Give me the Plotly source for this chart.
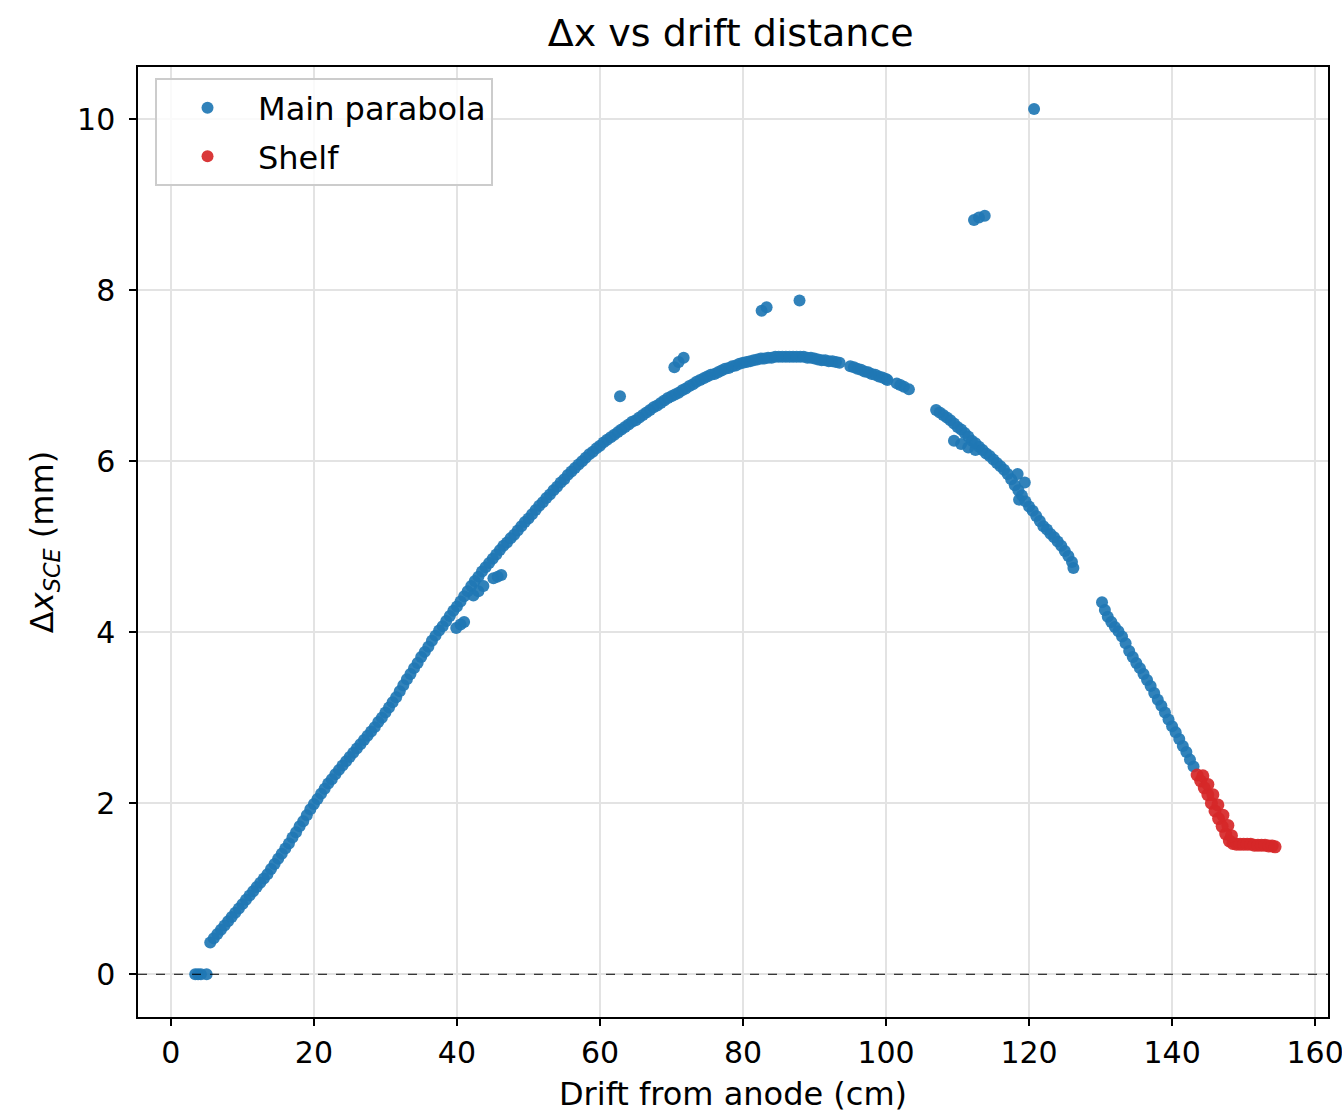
import plotly.graph_objects as go

# ---- data ----
curve_x = [5.5, 6, 7, 8, 9, 10, 11, 12, 13, 14, 15, 16, 17, 18, 19, 20, 21, 22, 23, 24,
           25, 26, 27, 28, 29, 30, 31, 32, 33, 34, 35, 36, 37, 38, 39, 40, 41, 42, 43, 44,
           45, 46, 47, 48, 49, 50, 51, 52, 53, 54, 55, 56, 57, 58, 59, 60, 61, 62, 63, 64,
           65, 66, 67, 68, 69, 70, 71, 72, 73, 74, 75, 76, 77, 78, 79, 80, 81, 82, 83, 84,
           85, 86, 87, 88, 89, 90, 91, 92, 93, 95, 96, 97, 98, 99, 100, 101.5, 102.5, 103.2,
           107, 108, 109, 110, 111, 112, 113, 114, 115, 116, 117, 118, 119, 120, 121, 122,
           123, 124, 125, 126, 126.2,
           109.5, 110.5, 111.5, 112.5, 118.4, 118.6, 119.4,
           130.2, 131, 132, 133, 134, 135, 136, 137, 138, 139, 140, 141, 142, 143]
curve_y = [0.37, 0.42, 0.52, 0.62, 0.72, 0.82, 0.92, 1.02, 1.12, 1.23, 1.35, 1.47, 1.60, 1.73, 1.86, 1.99, 2.11, 2.23, 2.34, 2.44,
           2.54, 2.64, 2.74, 2.84, 2.95, 3.06, 3.18, 3.31, 3.45, 3.58, 3.71, 3.83, 3.96, 4.07, 4.19, 4.30, 4.42, 4.54, 4.65, 4.76,
           4.86, 4.96, 5.05, 5.14, 5.24, 5.33, 5.43, 5.52, 5.61, 5.70, 5.79, 5.88, 5.96, 6.04, 6.11, 6.18, 6.25, 6.31, 6.37, 6.43,
           6.48, 6.54, 6.60, 6.65, 6.71, 6.76, 6.80, 6.85, 6.90, 6.95, 6.99, 7.02, 7.06, 7.09, 7.12, 7.15, 7.17, 7.19, 7.20, 7.21,
           7.22, 7.22, 7.22, 7.22, 7.21, 7.20, 7.18, 7.17, 7.16, 7.11, 7.08, 7.05, 7.02, 6.99, 6.96, 6.91, 6.87, 6.84,
           6.60, 6.54, 6.48, 6.40, 6.33, 6.24, 6.17, 6.09, 6.02, 5.94, 5.85, 5.72, 5.60, 5.47, 5.36, 5.24,
           5.15, 5.06, 4.95, 4.82, 4.75,
           6.24, 6.20, 6.16, 6.13, 5.85, 5.55, 5.75,
           4.35, 4.18, 4.06, 3.95, 3.78, 3.64, 3.51, 3.37, 3.21, 3.06, 2.90, 2.75, 2.60, 2.43]

# intermediate readings between the whole-centimetre ones
mid_x = [6.5, 7.5, 8.5, 9.5, 10.5, 11.5, 12.5, 13.5, 14.5, 15.5, 16.5, 17.5, 18.5, 19.5, 20.5, 21.5,
         22.5, 23.5, 24.5, 25.5, 26.5, 27.5, 28.5, 29.5, 30.5, 31.5, 32.5, 33.5, 34.5, 35.5, 36.5, 37.5,
         38.5, 39.5, 40.5, 41.5, 42.5, 43.5, 44.5, 45.5, 46.5, 47.5, 48.5, 49.5, 50.5, 51.5, 52.5, 53.5,
         54.5, 55.5, 56.5, 57.5, 58.5, 59.5, 60.5, 61.5, 62.5, 63.5, 64.5, 65.5, 66.5, 67.5, 68.5, 69.5,
         70.5, 71.5, 72.5, 73.5, 74.5, 75.5, 76.5, 77.5, 78.5, 79.5, 80.5, 81.5, 82.5, 83.5, 84.5, 85.5,
         86.5, 87.5, 88.5, 89.5, 90.5, 91.5, 92.5, 93.5, 95.5, 96.5, 97.5, 98.5, 99.5, 100.2, 102,
         107.5, 108.5, 109.5, 110.5, 111.5, 112.5, 113.5, 114.5, 115.5, 116.5, 117.5, 118.5, 119.5,
         120.5, 121.5, 122.5, 123.5, 124.5, 125.5,
         130.6, 131.5, 132.5, 133.5, 134.5, 135.5, 136.5, 137.5, 138.5, 139.5, 140.5, 141.5, 142.5]
mid_y = [0.47, 0.57, 0.67, 0.77, 0.87, 0.97, 1.07, 1.17, 1.29, 1.41, 1.53, 1.66, 1.79, 1.93, 2.05, 2.17,
         2.28, 2.39, 2.49, 2.59, 2.69, 2.79, 2.89, 3.00, 3.12, 3.24, 3.38, 3.51, 3.64, 3.77, 3.90, 4.02,
         4.13, 4.25, 4.36, 4.48, 4.60, 4.71, 4.81, 4.91, 5.01, 5.10, 5.19, 5.29, 5.38, 5.48, 5.57, 5.66,
         5.75, 5.84, 5.92, 6.00, 6.08, 6.15, 6.22, 6.28, 6.34, 6.40, 6.46, 6.51, 6.57, 6.63, 6.68, 6.74,
         6.78, 6.83, 6.88, 6.93, 6.97, 7.01, 7.04, 7.08, 7.11, 7.14, 7.16, 7.18, 7.20, 7.21, 7.22, 7.22,
         7.22, 7.22, 7.22, 7.21, 7.19, 7.18, 7.17, 7.15, 7.10, 7.07, 7.04, 7.01, 6.98, 6.95, 6.89,
         6.57, 6.51, 6.44, 6.37, 6.29, 6.21, 6.13, 6.06, 5.98, 5.90, 5.79, 5.66, 5.53,
         5.42, 5.30, 5.20, 5.11, 5.01, 4.89,
         4.26, 4.12, 4.01, 3.87, 3.71, 3.58, 3.44, 3.29, 3.14, 2.98, 2.83, 2.67, 2.51]

outlier_x = [3.4, 3.8, 4.2, 5.0, 39.9, 40.5, 41.0, 42.3, 43.0, 43.7, 45.1, 45.7, 46.2,
             62.8, 70.4, 71.0, 71.7, 82.6, 83.3, 87.9, 112.3, 113.0, 113.8, 120.7]
outlier_y = [0.0, 0.0, 0.0, 0.0, 4.05, 4.09, 4.12, 4.43, 4.48, 4.54, 4.63, 4.65, 4.67,
             6.76, 7.10, 7.16, 7.21, 7.76, 7.80, 7.88, 8.82, 8.85, 8.87, 10.12]

shelf_x = [143.5, 144, 144.5, 145, 145.5, 146, 146.5, 147, 147.5, 148, 148.5, 149, 149.5, 150, 150.5,
           151, 151.5, 152, 152.5, 153, 153.5, 154, 154.4,
           144.3, 145.0, 145.7, 146.4, 147.1, 147.8, 148.3]
shelf_y = [2.33, 2.26, 2.18, 2.10, 2.00, 1.91, 1.82, 1.73, 1.64, 1.56, 1.53, 1.52, 1.52, 1.52, 1.52,
           1.52, 1.51, 1.51, 1.51, 1.51, 1.50, 1.50, 1.49,
           2.32, 2.22, 2.10, 1.98, 1.86, 1.74, 1.62]

x_ticks = [0, 20, 40, 60, 80, 100, 120, 140, 160]
y_ticks = [0, 2, 4, 6, 8, 10]

FONT = "DejaVu Sans"
BLUE = "#1f77b4"
RED = "#d62728"

fig = go.Figure()
fig.add_trace(go.Scatter(
    x=curve_x + mid_x + outlier_x, y=curve_y + mid_y + outlier_y, mode="markers",
    name="Main parabola", legendgroup="main",
    marker=dict(color=BLUE, size=12, opacity=0.92, line=dict(width=0)),
))
fig.add_trace(go.Scatter(
    x=shelf_x, y=shelf_y, mode="markers", name="Shelf", legendgroup="shelf",
    marker=dict(color=RED, size=13, opacity=0.92, line=dict(width=0)),
))

fig.add_hline(y=0, line=dict(color="black", width=1, dash="dash"), layer="above")

axis_common = dict(
    showline=True, linecolor="black", linewidth=1.5, mirror=True,
    ticks="outside", ticklen=7, tickwidth=1.5, tickcolor="black",
    showgrid=True, gridcolor="#e3e3e3", gridwidth=1.5, zeroline=False,
    tickfont=dict(family=FONT, size=30, color="black"),
    automargin=False, ticklabeloverflow="allow",
)

fig.update_layout(
    width=1342, height=1115,
    margin=dict(l=138, r=14, t=67, b=98),
    paper_bgcolor="white", plot_bgcolor="white",
    title=dict(text="Δx vs drift distance", x=0.5445, xanchor="center",
               y=1 - 33 / 1115, yanchor="middle", yref="container",
               font=dict(family=FONT, size=38, color="black")),
    xaxis=dict(range=[-4.6, 161.8], tickvals=x_ticks, ticklabelstandoff=1,
               title=dict(text="Drift from anode (cm)", standoff=14,
                          font=dict(family=FONT, size=32, color="black")),
               **axis_common),
    yaxis=dict(range=[-0.50, 10.61], tickvals=y_ticks, ticklabelstandoff=8,
               title=dict(text="Δ<i>x</i><sub><i>SCE</i></sub> (mm)", standoff=14,
                          font=dict(family=FONT, size=32, color="black")),
               **axis_common),
    legend=dict(x=0.0143, y=0.988, xanchor="left", yanchor="top",
                bgcolor="rgba(255,255,255,0.8)", bordercolor="#cccccc", borderwidth=2,
                font=dict(family=FONT, size=32, color="black"),
                itemwidth=91, tracegroupgap=4, itemsizing="constant"),
    showlegend=True,
)

fig.write_html("out.html")
